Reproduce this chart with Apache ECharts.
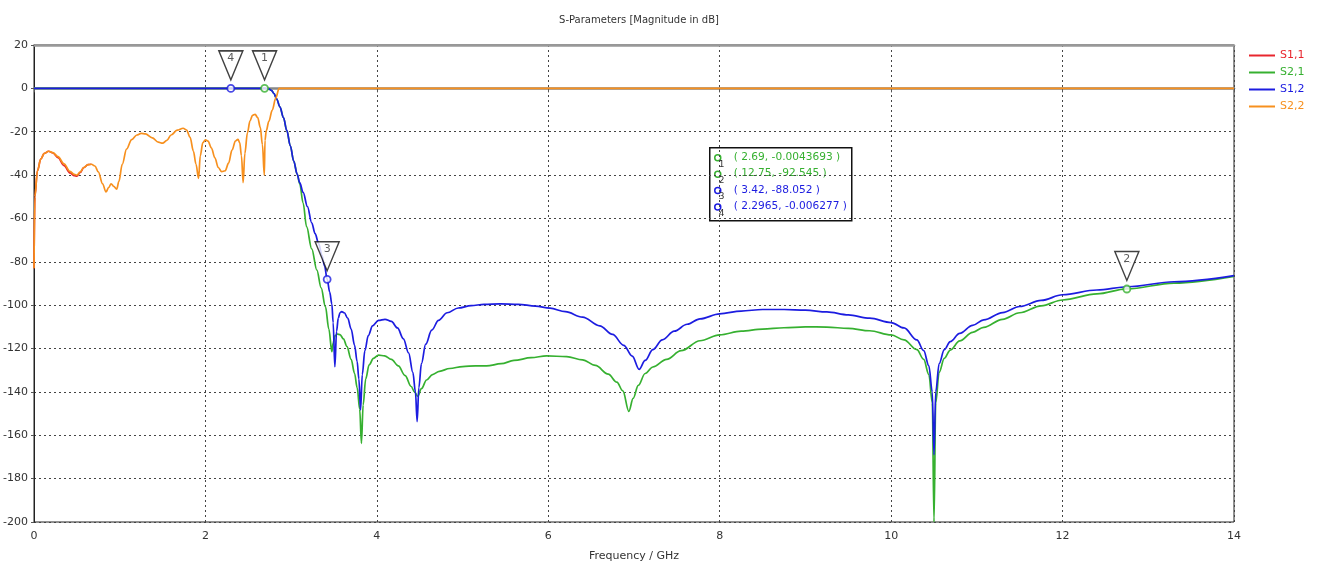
<!DOCTYPE html>
<html>
<head>
<meta charset="utf-8">
<script src="https://cdn.jsdelivr.net/npm/echarts@6/dist/echarts.min.js"></script>
<style>
html,body{margin:0;padding:0;background:#fff;}
#chart{width:1317px;height:567px;}
</style>
</head>
<body>
<div id="chart"></div>
<script>
// ---------- data ----------
const seriesNames = ['S1,1', 'S2,1', 'S1,2', 'S2,2'];
const xTicks = [0, 2, 4, 6, 8, 10, 12, 14];
const yTicks = [-200, -180, -160, -140, -120, -100, -80, -60, -40, -20, 0, 20];

const freqS22 = [0, 0.01, 0.04, 0.08, 0.12, 0.17, 0.22, 0.28, 0.35, 0.42, 0.47, 0.5, 0.54, 0.58, 0.63, 0.67, 0.71, 0.75, 0.8, 0.84, 0.87, 0.9, 0.93, 0.965, 0.99, 1.03, 1.08, 1.14, 1.2, 1.25, 1.3, 1.38, 1.45, 1.5, 1.55, 1.6, 1.67, 1.74, 1.78, 1.82, 1.86, 1.89, 1.92, 1.94, 1.97, 2.0, 2.03, 2.07, 2.11, 2.15, 2.19, 2.23, 2.27, 2.31, 2.35, 2.38, 2.4, 2.42, 2.44, 2.46, 2.49, 2.52, 2.55, 2.58, 2.61, 2.64, 2.665, 2.687, 2.695, 2.71, 2.74, 2.78, 2.82, 2.86, 14];
const dbS22 = [-83, -50, -38, -32.5, -30, -29, -29.6, -31.5, -34.8, -38.3, -39.7, -40, -38.5, -36.5, -35.2, -35, -35.8, -38.5, -44, -47.8, -45.8, -44, -45.2, -46.5, -43, -35, -28, -23.6, -21.5, -20.8, -21, -22.8, -24.8, -25.3, -24, -21.5, -19.3, -18.4, -19.2, -22.5, -29, -35, -41.5, -31, -25, -23.8, -24.3, -27.5, -32, -36.5, -38.4, -38, -34.5, -28.5, -24.3, -23.5, -25, -31, -43.5, -30, -20.5, -15, -12.4, -12, -13.5, -18, -26, -40, -24, -19.5, -15.2, -10, -4.5, 0, 0];

const freqS11 = [0, 0.01, 0.04, 0.08, 0.12, 0.17, 0.22, 0.28, 0.35, 0.42, 0.47, 0.5, 0.54, 0.58, 0.63, 0.67];
const dbS11 = [-83, -50, -38, -32.5, -30, -29, -29.8, -32, -35.6, -39, -40.3, -40.5, -38.8, -36.6, -35.2, -35];

const freqS21 = [0, 2.69, 2.74, 2.77, 2.8, 2.83, 2.87, 2.91, 2.95, 2.99, 3.03, 3.07, 3.1, 3.14, 3.18, 3.24, 3.3, 3.35, 3.4, 3.44, 3.475, 3.49, 3.51, 3.54, 3.57, 3.61, 3.65, 3.7, 3.74, 3.77, 3.8, 3.82, 3.84, 3.87, 3.91, 3.96, 4.02, 4.09, 4.17, 4.25, 4.33, 4.4, 4.44, 4.477, 4.52, 4.58, 4.65, 4.73, 4.85, 5.0, 5.15, 5.28, 5.45, 5.6, 5.8, 5.98, 6.215, 6.4, 6.55, 6.7, 6.8, 6.87, 6.94, 6.99, 7.05, 7.13, 7.22, 7.38, 7.55, 7.77, 8.0, 8.25, 8.5, 8.75, 9.0, 9.25, 9.5, 9.75, 10.0, 10.15, 10.3, 10.38, 10.44, 10.48, 10.5, 10.52, 10.56, 10.62, 10.69, 10.8, 10.95, 11.08, 11.3, 11.5, 11.75, 12.0, 12.4, 12.75, 13.3, 14];
const dbS21 = [0, -0.0044, -0.2, -0.9, -2.4, -4.8, -8.6, -13.5, -19.5, -26.5, -33.5, -39.5, -44, -53, -63.8, -74, -83.8, -92, -100.7, -111, -121.4, -117.5, -114.2, -113.3, -113.6, -115.5, -119, -125, -131.5, -138, -148, -163.7, -146, -134, -127.5, -124.5, -123, -123.4, -125, -128, -132.5, -137.5, -140, -142, -138.5, -134.5, -132, -130.5, -129.2, -128.3, -128, -128, -127, -125.5, -124.2, -123.4, -123.7, -125.2, -127.8, -131.8, -135.5, -139.5, -149, -143, -137, -131.5, -128.5, -125, -121, -116.4, -113.7, -112, -111, -110.4, -110, -110.1, -110.7, -111.8, -113.7, -116, -120.5, -125, -132, -145, -200, -145, -131, -124.5, -120.7, -116.5, -112.5, -110.2, -106.5, -103.5, -100.3, -97.6, -94.8, -92.5, -89.8, -86.7];

const freqS12 = [0, 2.2965, 2.7, 2.74, 2.77, 2.8, 2.83, 2.87, 2.91, 2.95, 2.99, 3.03, 3.07, 3.1, 3.14, 3.19, 3.24, 3.28, 3.32, 3.36, 3.39, 3.42, 3.45, 3.475, 3.49, 3.51, 3.53, 3.55, 3.57, 3.59, 3.62, 3.66, 3.7, 3.74, 3.77, 3.79, 3.81, 3.83, 3.86, 3.9, 3.95, 4.02, 4.095, 4.17, 4.24, 4.31, 4.37, 4.42, 4.45, 4.47, 4.49, 4.52, 4.57, 4.64, 4.72, 4.82, 4.95, 5.1, 5.25, 5.44, 5.65, 5.85, 6.02, 6.2, 6.4, 6.6, 6.75, 6.88, 6.98, 7.06, 7.13, 7.22, 7.33, 7.47, 7.62, 7.77, 8.0, 8.25, 8.5, 8.75, 9.0, 9.25, 9.5, 9.75, 10.0, 10.15, 10.3, 10.38, 10.44, 10.48, 10.5, 10.52, 10.56, 10.62, 10.69, 10.8, 10.95, 11.08, 11.3, 11.5, 11.75, 12.0, 12.4, 12.76, 13.3, 14];
const dbS12 = [0, -0.0063, -0.01, -0.2, -0.9, -2.4, -4.8, -8.6, -13.5, -19.5, -26.5, -33.5, -39.5, -43.5, -48, -54.5, -62, -67, -71.5, -77, -82, -88, -94, -99.5, -108, -128.4, -112, -106, -103.5, -103, -103.5, -106, -111, -118.5, -126, -134, -148.3, -132, -121, -114, -109.5, -107, -106.5, -107.5, -110.5, -115.5, -122, -131, -140, -153.7, -138, -127, -118, -111.5, -107, -103.5, -101.3, -100.2, -99.6, -99.4, -99.6, -100.4, -101.4, -103, -105.5, -109.5, -113.5, -118.5, -123.5, -129.6, -125.5, -120.5, -116, -112, -108.8, -106.3, -104, -102.7, -102, -102, -102.3, -103.1, -104.5, -106, -108, -110.5, -116, -121, -128, -140, -169, -140, -127, -120.5, -116.8, -113, -109.3, -106.8, -103.4, -100.6, -97.8, -95.2, -93, -91.5, -89.2, -86.4];

const markerLabels = ['1', '2', '3', '4'];
const markerFreq = [2.69, 12.75, 3.42, 2.2965];
const markerDb = [-0.0043693, -92.545, -88.052, -0.006277];
const markerText = ['2.69', '12.75', '3.42', '2.2965'];
const markerDbText = ['-0.0043693', '-92.545', '-88.052', '-0.006277'];
const markerSeries = ['S2,1', 'S2,1', 'S1,2', 'S1,2'];

// ---------- styling ----------
const colors = { 'S1,1': '#e8262e', 'S2,1': '#36b030', 'S1,2': '#1c1ce0', 'S2,2': '#f7901e' };
const FONT = 'DejaVu Sans';

function zip(xs, ys) { return xs.map((x, i) => [x, ys[i]]); }

const lineData = {
  'S1,1': zip(freqS11, dbS11),
  'S2,1': zip(freqS21, dbS21),
  'S1,2': zip(freqS12, dbS12),
  'S2,2': zip(freqS22, dbS22)
};

const lineSeries = seriesNames.map(n => ({
  name: n, type: 'line', data: lineData[n], symbol: 'none', showSymbol: false,
  lineStyle: { color: colors[n], width: 1.7 }, itemStyle: { color: colors[n] },
  smooth: 0.35, smoothMonotone: 'x', animation: false, z: 2
}));

const markerCircleData = markerFreq.map((f, i) => ({
  value: [f, markerDb[i]],
  itemStyle: { color: '#ffffff', borderColor: colors[markerSeries[i]], borderWidth: 1.8 }
}));
const markerTriData = markerFreq.map((f, i) => ({
  value: [f, markerDb[i]], name: markerLabels[i]
}));

const chart = echarts.init(document.getElementById('chart'), null, { renderer: 'canvas' });

const boxX = 709, boxY = 147, rowH = 16.4;
const boxChildren = [{
  type: 'rect', shape: { x: 0, y: 0, width: 142, height: 73 },
  style: { fill: '#fff', stroke: '#111', lineWidth: 1.5 }
}];
markerLabels.forEach((lab, i) => {
  const c = colors[markerSeries[i]];
  const cy = 10 + i * rowH;
  boxChildren.push({ type: 'circle', shape: { cx: 8, cy: cy, r: 3 }, style: { fill: '#fff', stroke: c, lineWidth: 1.5 } });
  boxChildren.push({ type: 'text', x: 9, y: cy + 2, style: { text: lab, fill: '#333', font: '9px ' + FONT } });
  boxChildren.push({ type: 'text', x: 24, y: cy - 6, style: { text: '( ' + markerText[i] + ', ' + markerDbText[i] + ' )', fill: c, font: '10.6px ' + FONT } });
});

chart.setOption({
  animation: false,
  backgroundColor: '#ffffff',
  title: {
    text: 'S-Parameters [Magnitude in dB]', left: 634, textAlign: 'center', top: 10,
    textStyle: { fontFamily: FONT, fontSize: 10, fontWeight: 'normal', color: '#333' }
  },
  legend: {
    orient: 'vertical', left: 1244, top: 44, itemWidth: 26, itemHeight: 2, itemGap: 4,
    icon: 'rect',
    data: seriesNames.map(n => ({ name: n, textStyle: { color: colors[n] } })),
    textStyle: { fontFamily: FONT, fontSize: 11, lineHeight: 13 }
  },
  grid: { left: 34, right: 83, top: 45, bottom: 45, show: true, borderColor: '#222', borderWidth: 1 },
  xAxis: [{
    type: 'value', min: xTicks[0], max: xTicks[xTicks.length - 1], interval: 2,
    name: 'Frequency / GHz', nameLocation: 'middle', nameGap: 29,
    nameTextStyle: { fontFamily: FONT, fontSize: 11, color: '#333' },
    axisLine: { show: true, lineStyle: { color: '#888', width: 2.5 } },
    axisTick: { show: true, length: 4, lineStyle: { color: '#555' } },
    axisLabel: { fontFamily: FONT, fontSize: 11, color: '#333', margin: 9 },
    splitLine: { show: true, lineStyle: { color: '#444', type: [2, 3], width: 1 } }
  }, {
    type: 'value', position: 'top', min: 0, max: 14, interval: 2,
    axisLine: { show: true, lineStyle: { color: '#999', width: 2.5 } },
    axisTick: { show: false }, axisLabel: { show: false }, splitLine: { show: false }
  }],
  yAxis: {
    type: 'value', min: yTicks[0], max: yTicks[yTicks.length - 1], interval: 20,
    axisLine: { show: true, lineStyle: { color: '#222', width: 1 } },
    axisTick: { show: true, length: 3, lineStyle: { color: '#555' } },
    axisLabel: { fontFamily: FONT, fontSize: 11, color: '#333', margin: 6 },
    splitLine: { show: true, lineStyle: { color: '#444', type: [2, 3], width: 1 } }
  },
  series: lineSeries.concat([{
    name: 'markers', type: 'scatter', data: markerCircleData, symbol: 'circle', symbolSize: 7,
    z: 5, animation: false, silent: true, legendHoverLink: false
  }, {
    name: 'markerTri', type: 'scatter', data: markerTriData,
    symbol: 'path://M0,0L24,0L12,29Z', symbolSize: [24, 29], symbolOffset: [0, -23],
    itemStyle: { color: '#ffffff', borderColor: '#111', borderWidth: 1.5 },
    label: { show: true, formatter: p => p.name, position: 'inside', offset: [0, -7], color: '#333', fontFamily: FONT, fontSize: 11 },
    z: 6, animation: false, silent: true
  }]),
  graphic: [{ type: 'group', left: boxX, top: boxY, children: boxChildren, z: 10 }]
});
</script>
</body>
</html>
